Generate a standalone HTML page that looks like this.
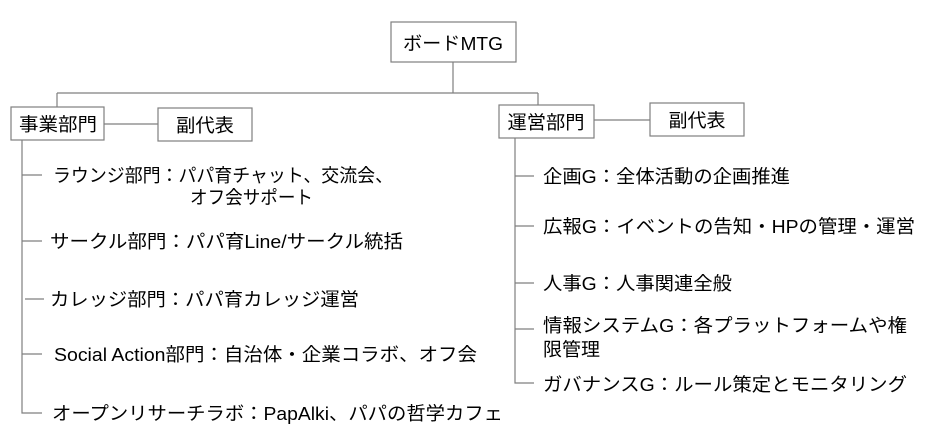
<!DOCTYPE html>
<html><head><meta charset="utf-8"><style>
html,body{margin:0;padding:0;background:#fff;}
svg{display:block;}
text{font-family:"Liberation Sans","Noto Sans CJK JP",sans-serif;font-size:18.5px;fill:#000;}
</style></head><body>
<svg width="942" height="434" viewBox="0 0 942 434" xmlns="http://www.w3.org/2000/svg">
<g fill="#fff" stroke="#7f7f7f" stroke-width="1.2">
<rect x="391" y="22" width="125" height="40"/>
<rect x="11" y="107" width="93" height="33"/>
<rect x="158" y="108" width="94" height="33"/>
<rect x="499" y="105" width="95" height="33"/>
<rect x="650" y="103" width="94" height="33"/>
</g>
<g stroke="#7f7f7f" stroke-width="1.2" fill="none">
<path d="M453 62V93M57 93H538M57 93V107M538 93V105"/>
<path d="M104 124H158M594 120H650"/>
<path d="M22 140V413H42M22 175H42M22 241H42M25 299H44M22 354H42"/>
<path d="M515 138V383H534M515 176H534M515 226H534M515 283H534M515 329H534"/>
</g>
<text x="453" y="50" text-anchor="middle" font-size="20" textLength="100" lengthAdjust="spacingAndGlyphs">ボードMTG</text>
<text x="58" y="131" text-anchor="middle" font-size="20" textLength="78" lengthAdjust="spacingAndGlyphs">事業部門</text>
<text x="205" y="132" text-anchor="middle" font-size="20" textLength="58" lengthAdjust="spacingAndGlyphs">副代表</text>
<text x="546" y="129" text-anchor="middle" font-size="20" textLength="77" lengthAdjust="spacingAndGlyphs">運営部門</text>
<text x="697" y="127" text-anchor="middle" font-size="20" textLength="57" lengthAdjust="spacingAndGlyphs">副代表</text>

<text x="53" y="182" textLength="340" lengthAdjust="spacingAndGlyphs">ラウンジ部門：パパ育チャット、交流会、</text>
<text x="190" y="204" textLength="123" lengthAdjust="spacingAndGlyphs">オフ会サポート</text>
<text x="50" y="248" textLength="353" lengthAdjust="spacingAndGlyphs">サークル部門：パパ育Line/サークル統括</text>
<text x="50" y="306" textLength="309" lengthAdjust="spacingAndGlyphs">カレッジ部門：パパ育カレッジ運営</text>
<text x="54" y="361" textLength="423" lengthAdjust="spacingAndGlyphs">Social Action部門：自治体・企業コラボ、オフ会</text>
<text x="52" y="420" textLength="451" lengthAdjust="spacingAndGlyphs">オープンリサーチラボ：PapAlki、パパの哲学カフェ</text>

<text x="543" y="183" textLength="247" lengthAdjust="spacingAndGlyphs">企画G：全体活動の企画推進</text>
<text x="543" y="233" textLength="372" lengthAdjust="spacingAndGlyphs">広報G：イベントの告知・HPの管理・運営</text>
<text x="543" y="290" textLength="189" lengthAdjust="spacingAndGlyphs">人事G：人事関連全般</text>
<text x="543" y="332" textLength="364" lengthAdjust="spacingAndGlyphs">情報システムG：各プラットフォームや権</text>
<text x="543" y="356" textLength="57" lengthAdjust="spacingAndGlyphs">限管理</text>
<text x="543" y="391" textLength="364" lengthAdjust="spacingAndGlyphs">ガバナンスG：ルール策定とモニタリング</text>
</svg>
</body></html>
